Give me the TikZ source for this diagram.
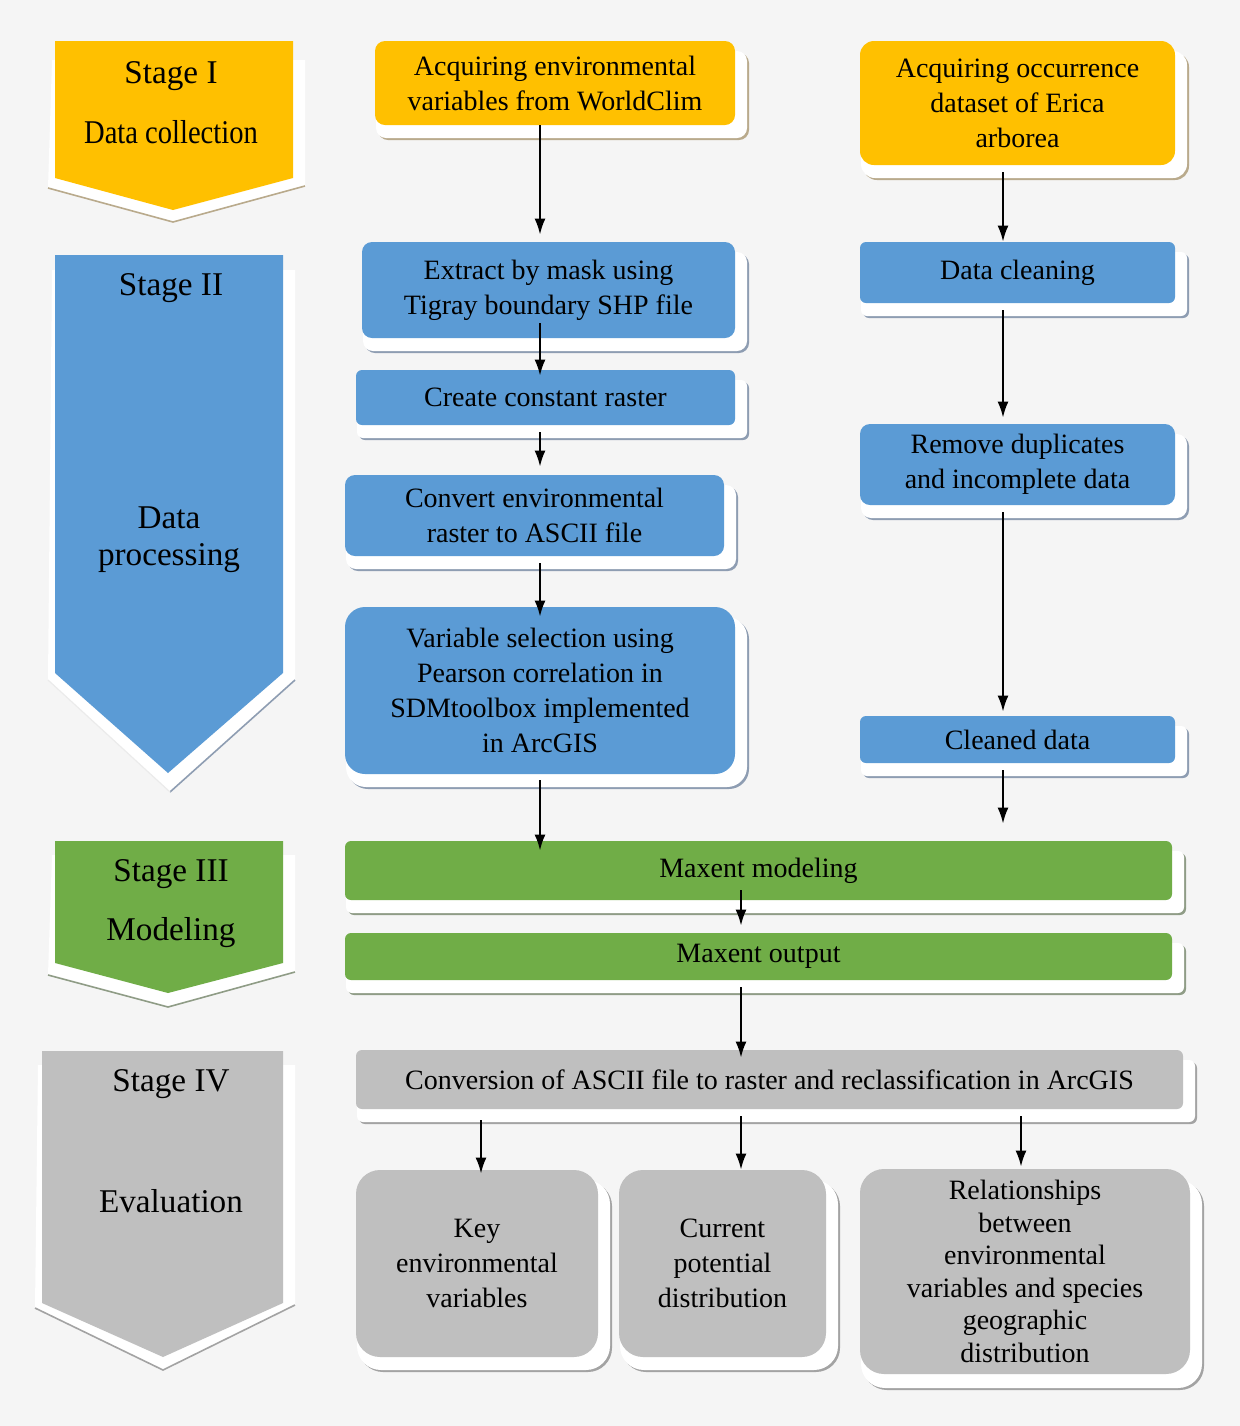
\documentclass[tikz,border=0pt]{standalone}
\usepackage{fontspec}
\setmainfont{Liberation Serif}
\usetikzlibrary{arrows.meta}
\definecolor{bg}{HTML}{F5F5F5}
\definecolor{cOr}{HTML}{FFC000}
\definecolor{cBl}{HTML}{5B9BD5}
\definecolor{cGr}{HTML}{70AD47}
\definecolor{cGy}{HTML}{BFBFBF}
\definecolor{eOr}{HTML}{B9AA8C}
\definecolor{eBl}{HTML}{8E9DB2}
\definecolor{eGr}{HTML}{8F9C86}
\definecolor{eGy}{HTML}{A3A3A3}
\newcommand\myplate[6]{%
  \fill[#6, rounded corners=#5] (#1+3,#2+12) rectangle (#3+14,#4+15);
  \fill[white, rounded corners=#5] (#1+1,#2+10) rectangle (#3+12,#4+13);
}
\tikzset{
  box/.style={inner sep=0pt, align=center, font=\fontsize{14}{17.5}\selectfont, text=black},
  stagetxt/.style={inner sep=0pt, align=center, font=\fontsize{16.6}{18.5}\selectfont, text=black},
  arr/.style={draw=black, line width=1pt, -{Latex[length=8pt,width=5.5pt]}},
}
\begin{document}
\begin{tikzpicture}[x=0.5pt,y=-0.5pt]
\fill[bg] (0,0) rectangle (1240,1426);
\useasboundingbox (0,0) rectangle (1240,1426);

% ---------- stage chevrons ----------
\fill[white] (52,60) -- (305,60) -- (305,186) -- (173,222) -- (48,188) -- cycle;
\draw[eOr, line width=0.8pt] (48,188) -- (173,222) -- (305,186);
\fill[cOr] (55,41) -- (293,41) -- (293,178) -- (173,210) -- (55,178) -- cycle;

\fill[white] (52,270) -- (295,270) -- (295,680) -- (170,792) -- (48,680) -- cycle;
\draw[eBl, line width=0.8pt] (295,680) -- (170,792);
\draw[black!8, line width=0.6pt] (48,680) -- (170,792);
\fill[cBl] (55,255) -- (283,255) -- (283,673) -- (168,773) -- (55,673) -- cycle;

\fill[white] (52,855) -- (295,855) -- (295,972) -- (168,1007) -- (48,975) -- cycle;
\draw[eGr, line width=0.8pt] (48,975) -- (168,1007) -- (295,972);
\fill[cGr] (55,841) -- (283,841) -- (283,963) -- (168,993) -- (55,963) -- cycle;

\fill[white] (38,1065) -- (295,1065) -- (295,1305) -- (163,1370) -- (35,1308) -- cycle;
\draw[eGy, line width=0.8pt] (35,1308) -- (163,1370) -- (295,1305);
\fill[cGy] (42,1051) -- (283,1051) -- (283,1303) -- (163,1357) -- (42,1303) -- cycle;

\node[stagetxt] (s1) at (171,76) {Stage I};
\node[stagetxt] (s1b) at (171,132) {\scalebox{0.86}[1]{Data collection}};
\node[stagetxt] (s2) at (171,288) {Stage II};
\node[stagetxt] (s2b) at (169,540) {Data\\processing};
\node[stagetxt] (s3) at (171,874) {Stage III};
\node[stagetxt] (s3b) at (171,933) {Modeling};
\node[stagetxt] (s4) at (171,1084) {Stage IV};
\node[stagetxt] (s4b) at (171,1201) {Evaluation};

% ---------- plates ----------
\myplate{375}{41}{735}{125}{5pt}{eOr}
\myplate{860}{41}{1175}{165}{7pt}{eOr}
\myplate{362}{242}{735}{338}{5pt}{eBl}
\myplate{356}{370}{735}{425}{3pt}{eBl}
\myplate{345}{475}{724}{556}{5pt}{eBl}
\myplate{345}{607}{735}{774}{10pt}{eBl}
\myplate{860}{242}{1175}{303}{3pt}{eBl}
\myplate{860}{424}{1175}{505}{5pt}{eBl}
\myplate{860}{716}{1175}{763}{3pt}{eBl}
\myplate{345}{841}{1172}{900}{3pt}{eGr}
\myplate{345}{933}{1172}{980}{3pt}{eGr}
\myplate{356}{1050}{1183}{1109}{3pt}{eGy}
\myplate{356}{1170}{598}{1357}{12pt}{eGy}
\myplate{619}{1170}{826}{1357}{12pt}{eGy}
\myplate{860}{1170}{1190}{1375}{12pt}{eGy}

% ---------- boxes ----------
\node[box, fill=cOr, rounded corners=5pt, minimum width=180pt, minimum height=42pt] (b1) at (555,83) {Acquiring environmental\\variables from WorldClim};
\node[box, fill=cOr, rounded corners=7pt, minimum width=157.5pt, minimum height=62pt] (b2) at (1017.5,103) {Acquiring occurrence\\dataset of Erica\\arborea};
\node[box, fill=cBl, rounded corners=5pt, minimum width=186.5pt, minimum height=48pt] (b3) at (548.5,290) {Extract by mask using\\Tigray boundary SHP file};
\node[box, fill=cBl, rounded corners=3pt, minimum width=189.5pt, minimum height=27.5pt] (b4) at (545.5,397.5) {Create constant raster};
\node[box, fill=cBl, rounded corners=5pt, minimum width=189.5pt, minimum height=40.5pt] (b5) at (534.5,515.5) {Convert environmental\\raster to ASCII file};
\node[box, fill=cBl, rounded corners=10pt, minimum width=195pt, minimum height=83.5pt] (b6) at (540,690.5) {Variable selection using\\Pearson correlation in\\SDMtoolbox implemented\\in ArcGIS};
\node[box, fill=cBl, rounded corners=3pt, minimum width=157.5pt, minimum height=30.5pt] (b7) at (1017.5,272.5) {Data cleaning};
\node[box, fill=cBl, rounded corners=5pt, minimum width=157.5pt, minimum height=40.5pt] (b8) at (1017.5,464.5) {Remove duplicates\\and incomplete data};
\node[box, fill=cBl, rounded corners=3pt, minimum width=157.5pt, minimum height=23.5pt] (b9) at (1017.5,739.5) {Cleaned data};
\node[box, fill=cGr, rounded corners=3pt, minimum width=413.5pt, minimum height=29.5pt] (b10) at (758.5,870.5) {Maxent modeling};
\node[box, fill=cGr, rounded corners=3pt, minimum width=413.5pt, minimum height=23.5pt] (b11) at (758.5,956.5) {Maxent output};
\node[box, fill=cGy, rounded corners=3pt, minimum width=413.5pt, minimum height=29.5pt] (b12) at (769.5,1079.5) {Conversion of ASCII file to raster and reclassification in ArcGIS};
\node[box, fill=cGy, rounded corners=12pt, minimum width=121pt, minimum height=93.5pt] (b13) at (477,1263.5) {Key\\environmental\\variables};
\node[box, fill=cGy, rounded corners=12pt, minimum width=103.5pt, minimum height=93.5pt] (b14) at (722.5,1263.5) {Current\\potential\\distribution};
\node[box, fill=cGy, rounded corners=12pt, minimum width=165pt, minimum height=102.5pt, font=\fontsize{14}{16.3}\selectfont] (b15) at (1025,1271.5) {Relationships\\between\\environmental\\variables and species\\geographic\\distribution};

% ---------- arrows ----------
\draw[arr, shorten >=3.5pt] (b1.south -| 540,0) -- (b3.north -| 540,0);
\draw[arr, shorten <=3.5pt] (b2.south -| 1003,0) -- (b7.north -| 1003,0);
\draw[arr, shorten <=-7.5pt, shorten >=-3pt] (b3.south -| 540,0) -- (b4.north -| 540,0);
\draw[arr, shorten <=3.5pt, shorten >=4pt] (b4.south -| 540,0) -- (b5.north -| 540,0);
\draw[arr, shorten <=3.5pt, shorten >=-5pt] (b5.south -| 540,0) -- (b6.north -| 540,0);
\draw[arr, shorten <=3.5pt, shorten >=3pt] (b7.south -| 1003,0) -- (b8.north -| 1003,0);
\draw[arr, shorten <=3.5pt, shorten >=2pt] (b8.south -| 1003,0) -- (b9.north -| 1003,0);
\draw[arr, shorten <=3pt, shorten >=-5pt] (b6.south -| 540,0) -- (b10.north -| 540,0);
\draw[arr, shorten <=3.5pt, shorten >=8.5pt] (b9.south -| 1003,0) -- (b10.north -| 1003,0);
\draw[arr, shorten <=-5pt, shorten >=3.5pt] (b10.south -| 741,0) -- (b11.north -| 741,0);
\draw[arr, shorten <=3.5pt, shorten >=-4pt] (b11.south -| 741,0) -- (b12.north -| 741,0);
\draw[arr, shorten <=5.5pt, shorten >=-2pt] (b12.south -| 481,0) -- (b13.north -| 481,0);
\draw[arr, shorten <=3.5pt] (b12.south -| 741,0) -- (b14.north -| 741,0);
\draw[arr, shorten <=3.5pt, shorten >=1pt] (b12.south -| 1021,0) -- (b15.north -| 1021,0);
\end{tikzpicture}
\end{document}
